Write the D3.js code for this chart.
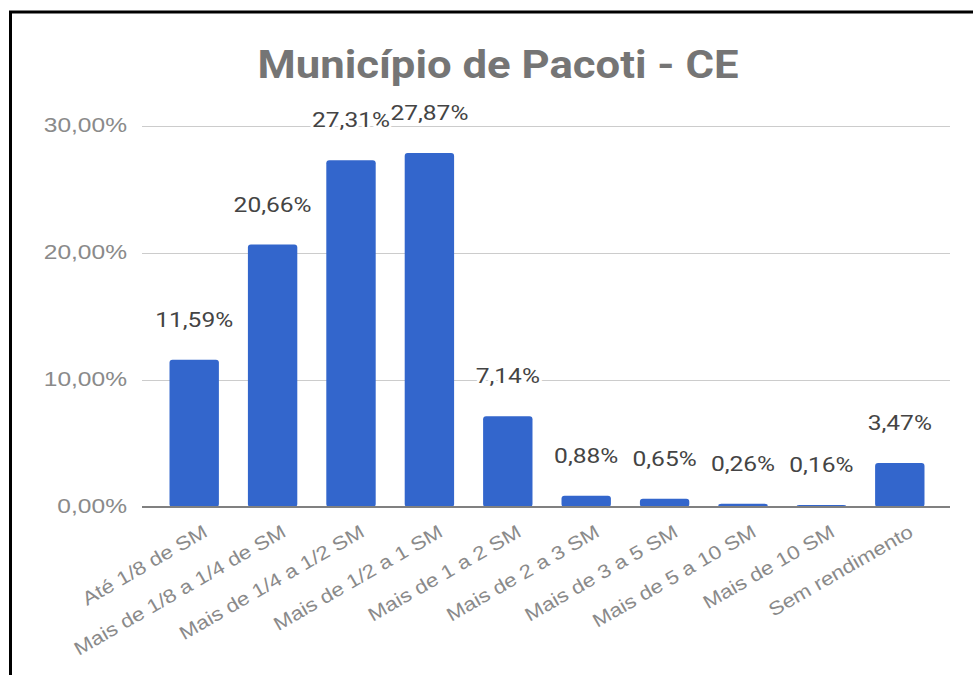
<!DOCTYPE html>
<html>
<head>
<meta charset="utf-8">
<script src="https://cdn.jsdelivr.net/npm/d3@7"></script>
<style>
  body { margin: 0; background: #fff; }
  svg { display: block; font-family: Roboto, Arial, sans-serif; }
  .axis.y .domain { display: none; }
  .axis.y line { stroke: #cccccc; }
  .axis.y text { fill: #8a8a8a; font-size: 21px; }
  .axis.x .domain, .axis.x line { display: none; }
  .axis.x text { fill: #8a8a8a; font-size: 19px; }
  .label { fill: #444; font-size: 21px; stroke: #fff; stroke-width: 5px; paint-order: stroke; }
</style>
</head>
<body>
<div id="chart"></div>
<script>
const categories = ['Até 1/8 de SM', 'Mais de 1/8 a 1/4 de SM', 'Mais de 1/4 a 1/2 SM', 'Mais de 1/2 a 1 SM',
  'Mais de 1 a 2 SM', 'Mais de 2 a 3 SM', 'Mais de 3 a 5 SM', 'Mais de 5 a 10 SM', 'Mais de 10 SM', 'Sem rendimento'];
const values = [11.59, 20.66, 27.31, 27.87, 7.14, 0.88, 0.65, 0.26, 0.16, 3.47];
const yTicks = [0, 10, 20, 30];
const title = 'Município de Pacoti - CE';

const width = 973;
const height = 675;
const stretch = 1.17; // the screenshot's text is a bit wider than plain Roboto
const fmt = v => v.toFixed(2).replace('.', ',') + '%';

const svg = d3.select('#chart').append('svg')
  .attr('width', width)
  .attr('height', height);

// frame (only top and left edges visible in the screenshot)
svg.append('path')
  .attr('d', 'M10.5,' + height + ' V12 H' + width)
  .attr('fill', 'none')
  .attr('stroke', '#000')
  .attr('stroke-width', 3);

svg.append('text')
  .attr('transform', 'translate(498,78) scale(1.12,1)')
  .attr('text-anchor', 'middle')
  .attr('fill', '#757575')
  .attr('font-size', 39)
  .attr('font-weight', 'bold')
  .text(title);

const x = d3.scaleBand()
  .domain(categories)
  .range([155, 939])
  .paddingInner(0.37)
  .paddingOuter(0.185);

const y = d3.scaleLinear()
  .domain([0, 30])
  .range([507, 126]);

const gridLeft = 142, gridRight = 950;

svg.append('g')
  .attr('class', 'axis y')
  .attr('transform', 'translate(' + gridLeft + ',0)')
  .call(d3.axisLeft(y).tickValues(yTicks).tickSize(-(gridRight - gridLeft)).tickPadding(15).tickFormat(fmt))
  .selectAll('text')
  .attr('x', -15 / stretch)
  .attr('dy', '0.25em')
  .attr('transform', 'scale(' + stretch + ',1)');

svg.append('g')
  .selectAll('rect')
  .data(values)
  .enter()
  .append('rect')
  .attr('x', (d, i) => x(categories[i]))
  .attr('y', d => y(d))
  .attr('width', x.bandwidth())
  .attr('height', d => y(0) - y(d))
  .attr('rx', 3)
  .attr('fill', '#3366cc');

// baseline
svg.append('line')
  .attr('x1', gridLeft).attr('x2', gridRight)
  .attr('y1', y(0)).attr('y2', y(0))
  .attr('stroke', '#808080')
  .attr('stroke-width', 2);

svg.append('g')
  .selectAll('.label')
  .data(values)
  .enter()
  .append('text')
  .attr('class', 'label')
  .attr('transform', (d, i) => 'translate(' + (x(categories[i]) + x.bandwidth() / 2) + ',' + (y(d) - 33) + ') scale(' + stretch + ',1)')
  .attr('text-anchor', 'middle')
  .text(fmt);

const xAxis = svg.append('g')
  .attr('class', 'axis x')
  .attr('transform', 'translate(0,' + y(0) + ')')
  .call(d3.axisBottom(x).tickSize(0));

xAxis.selectAll('text')
  .attr('text-anchor', 'end')
  .attr('dy', '0.7em')
  .attr('y', 0)
  .attr('transform', 'translate(8,17) rotate(-30) scale(' + stretch + ',1)');
</script>
</body>
</html>
